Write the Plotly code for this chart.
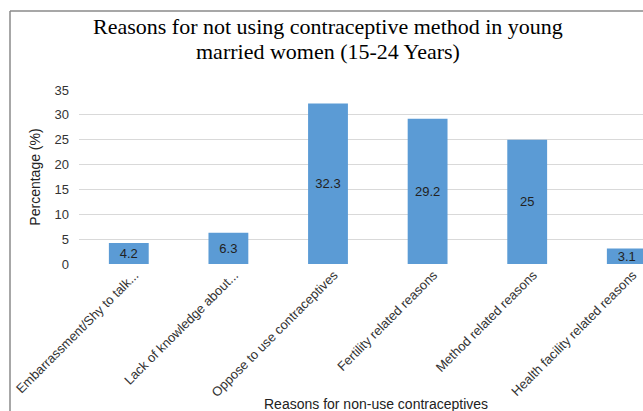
import plotly.graph_objects as go

categories = ["Embarrassment/Shy to talk...", "Lack of knowledge about...",
              "Oppose to use contraceptives", "Fertility related reasons",
              "Method related reasons", "Health facility related reasons"]
values = [4.2, 6.3, 32.3, 29.2, 25, 3.1]
value_labels = ["4.2", "6.3", "32.3", "29.2", "25", "3.1"]

W, H = 643, 411
L, T = 79, 90
PW = W - L
PH = 264 - T
B = H - 264

def px_x(p):
    return (p - L) / PW

def px_y(p):
    return (264 - p) / PH

fig = go.Figure(go.Bar(
    x=list(range(len(categories))), y=values,
    text=value_labels, textposition="inside", insidetextanchor="middle",
    constraintext="none",
    textfont=dict(family="Liberation Sans", size=13, color="#222"),
    marker=dict(color="#5B9BD5", line=dict(width=0)),
    width=0.4, cliponaxis=True,
))

fig.update_layout(
    width=W, height=H,
    margin=dict(l=L, r=0, t=T, b=B),
    paper_bgcolor="white", plot_bgcolor="white",
    showlegend=False,
    uniformtext=dict(minsize=13, mode="show"),
    xaxis=dict(range=[-0.5, -0.5 + PW / 99.6], tickmode="array",
               tickvals=list(range(len(categories))), ticktext=categories,
               tickangle=-45, showgrid=False, zeroline=False, showline=False,
               ticklabelshift=6,
               tickfont=dict(family="Liberation Sans", size=13, color="#333")),
    yaxis=dict(range=[0, 35], dtick=5, showgrid=True, gridcolor="#D9D9D9",
               zeroline=False, showline=False, ticklabelstandoff=9,
               tickfont=dict(family="Liberation Sans", size=13, color="#333"),
               title=dict(text="Percentage (%)", standoff=10,
                          font=dict(family="Liberation Sans", size=14, color="#222"))),
    shapes=[dict(type="line", xref="paper", yref="paper", x0=px_x(10), x1=px_x(10),
                 y0=px_y(11), y1=px_y(420), line=dict(color="#8a8a8a", width=1.5)),
            dict(type="line", xref="paper", yref="paper", x0=px_x(10), x1=px_x(660),
                 y0=px_y(11), y1=px_y(11), line=dict(color="#8a8a8a", width=1.5))],
    annotations=[
        dict(text="Reasons for not using contraceptive method in young", xref="paper", yref="paper",
             x=px_x(328), y=px_y(26), xanchor="center", yanchor="middle", showarrow=False,
             font=dict(family="Liberation Serif", size=22, color="#000")),
        dict(text="married women (15-24 Years)", xref="paper", yref="paper",
             x=px_x(328), y=px_y(52), xanchor="center", yanchor="middle", showarrow=False,
             font=dict(family="Liberation Serif", size=22, color="#000")),
        dict(text="Reasons for non-use contraceptives", xref="paper", yref="paper",
             x=px_x(376), y=px_y(404), xanchor="center", yanchor="middle",
             showarrow=False,
             font=dict(family="Liberation Sans", size=14, color="#222"))],
)

fig.write_html("out.html", config={"displayModeBar": False},
               post_script="document.body.style.margin='0px';document.body.style.overflow='hidden';")
